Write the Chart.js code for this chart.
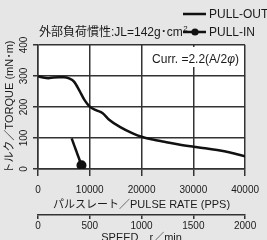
<!DOCTYPE html>
<html><head><meta charset="utf-8">
<script src="https://cdn.jsdelivr.net/npm/chart.js@4/dist/chart.umd.min.js"></script>
<style>
html,body{margin:0;padding:0;background:#e6e6e6;overflow:hidden;}
#c{position:absolute;left:0;top:0;}
</style></head><body>
<canvas id="c" width="267" height="248"></canvas>
<script>
const pullOutX = [0, 1000, 2000, 3000, 4000, 5000, 6000, 7000, 8000, 9000, 10000, 11200, 12500, 13800, 15800, 18300, 20000, 22200, 24400, 27200, 30000, 32300, 34600, 37100, 40000];
const pullOutY = [299, 295, 293, 295, 296, 296, 292, 281, 253, 222, 201, 190, 180, 158, 136, 115, 104, 95, 88, 79, 72, 67, 61, 53, 41];
const pullInX = [6500, 8400];
const pullInY = [99, 12];
const rateTicks = [0, 10000, 20000, 30000, 40000];
const torqueTicks = [0, 100, 200, 300, 400];
const speedTicks = [0, 500, 1000, 1500, 2000];
const seriesNames = ['PULL-OUT', 'PULL-IN'];

const FONT = "'Liberation Sans', Arial, 'Noto Sans CJK JP', sans-serif";
const INK = '#1a1a1a';
const GRID = '#333333';

const toPts = (xs, ys) => xs.map((x, i) => ({x, y: ys[i]}));
const setTicks = vals => s => { s.ticks = vals.map(v => ({value: v})); };

const deco = {
  id: 'deco',
  beforeDraw(chart) {
    const {ctx, chartArea: a} = chart;
    ctx.save();
    ctx.fillStyle = '#ffffff';
    ctx.fillRect(a.left, a.top, a.right - a.left, a.bottom - a.top);
    ctx.restore();
  },
  beforeDatasetsDraw(chart) {
    const {ctx, chartArea: a} = chart;
    ctx.save();
    ctx.fillStyle = '#ffffff';
    ctx.fillRect(a.right - 97, a.top + 2, 95, 20);
    ctx.fillStyle = INK;
    ctx.font = '12px ' + FONT;
    ctx.textBaseline = 'middle';
    ctx.textAlign = 'left';
    let x = a.right - 93;
    const y = a.top + 15;
    const t1 = 'Curr. =2.2(A/2';
    ctx.fillText(t1, x, y);
    x += ctx.measureText(t1).width;
    ctx.font = 'italic 12px ' + FONT;
    ctx.fillText('\u03c6', x, y);
    x += ctx.measureText('\u03c6').width;
    ctx.font = '12px ' + FONT;
    ctx.fillText(')', x, y);
    ctx.restore();
  },
  afterDraw(chart) {
    const {ctx} = chart;
    const ds = chart.data.datasets;
    ctx.save();
    ctx.font = '12px ' + FONT;
    ctx.textBaseline = 'middle';
    ctx.textAlign = 'left';
    const rows = [14, 32];
    ds.forEach((d, i) => {
      const y = rows[i];
      ctx.fillStyle = d.borderColor;
      ctx.fillRect(183, y - 1.25, 23, 2.5);
      if (i === 1) {
        ctx.beginPath(); ctx.arc(195, y, 3.6, 0, Math.PI * 2); ctx.fill();
      }
      ctx.fillStyle = INK;
      ctx.fillText(d.label, 209, y + 0.5);
    });
    ctx.fillStyle = INK;
    let x = 39;
    const y = 32.5;
    const t = '外部負荷慣性:JL=142g･cm';
    ctx.fillText(t, x, y);
    x += ctx.measureText(t).width;
    ctx.font = '8px ' + FONT;
    ctx.fillText('2', x + 0.5, y - 4);
    ctx.restore();
  }
};

new Chart(document.getElementById('c'), {
  type: 'scatter',
  data: {
    datasets: [
      {label: seriesNames[0], data: toPts(pullOutX, pullOutY), showLine: true, fill: false, borderColor: '#111', backgroundColor: '#111', borderWidth: 2.5, pointRadius: 0, cubicInterpolationMode: 'monotone'},
      {label: seriesNames[1], data: toPts(pullInX, pullInY), showLine: true, fill: false, borderColor: '#111', backgroundColor: '#111', borderWidth: 2.5, pointRadius: [0, 3.8], pointHoverRadius: 0}
    ]
  },
  options: {
    responsive: false,
    animation: false,
    devicePixelRatio: 1,
    layout: {padding: {top: 45, right: 21, left: 0, bottom: 0}},
    plugins: {legend: {display: false}, tooltip: {enabled: false}},
    scales: {
      x: {
        type: 'linear', position: 'bottom', weight: 0, min: 0, max: 40000,
        afterBuildTicks: setTicks(rateTicks),
        afterFit: s => { s.height = 46; },
        ticks: {font: {size: 10, family: FONT}, color: INK, maxRotation: 0, autoSkip: false, padding: 8, callback: v => String(v)},
        grid: {drawOnChartArea: true, color: GRID, lineWidth: 1.5, tickLength: 7, tickColor: GRID, tickWidth: 1.5},
        border: {display: true, color: GRID, width: 1.5},
        title: {display: true, text: 'パルスレート／PULSE RATE (PPS)', font: {size: 11, family: FONT}, color: INK, padding: {top: 0, bottom: 3}}
      },
      x2: {
        type: 'linear', position: 'bottom', weight: 1, min: 0, max: 2000,
        afterBuildTicks: setTicks(speedTicks),
        afterFit: s => { s.height = 33; },
        ticks: {font: {size: 10, family: FONT}, color: INK, maxRotation: 0, autoSkip: false, padding: 1, callback: v => String(v)},
        grid: {drawOnChartArea: false, color: GRID, lineWidth: 1.5, tickLength: 4, tickColor: GRID},
        border: {display: true, color: GRID, width: 1.5},
        title: {display: true, text: 'SPEED　r／min', font: {size: 11, family: FONT}, color: INK, padding: {top: 0, bottom: 3}}
      },
      y: {
        type: 'linear', position: 'left', min: 0, max: 400,
        afterBuildTicks: setTicks(torqueTicks),
        afterFit: s => { s.width = 38; },
        ticks: {font: {size: 10, family: FONT}, color: INK, minRotation: 90, maxRotation: 90, crossAlign: 'center', padding: 0, callback: v => String(v)},
        grid: {drawOnChartArea: true, color: GRID, lineWidth: 1.5, tickLength: 5, tickColor: GRID},
        border: {display: true, color: GRID, width: 1.5},
        title: {display: true, text: 'トルク／TORQUE (mN･m)', font: {size: 11, family: FONT}, color: INK, padding: {top: 3, bottom: 0}}
      }
    }
  },
  plugins: [deco]
});
</script>
</body></html>
